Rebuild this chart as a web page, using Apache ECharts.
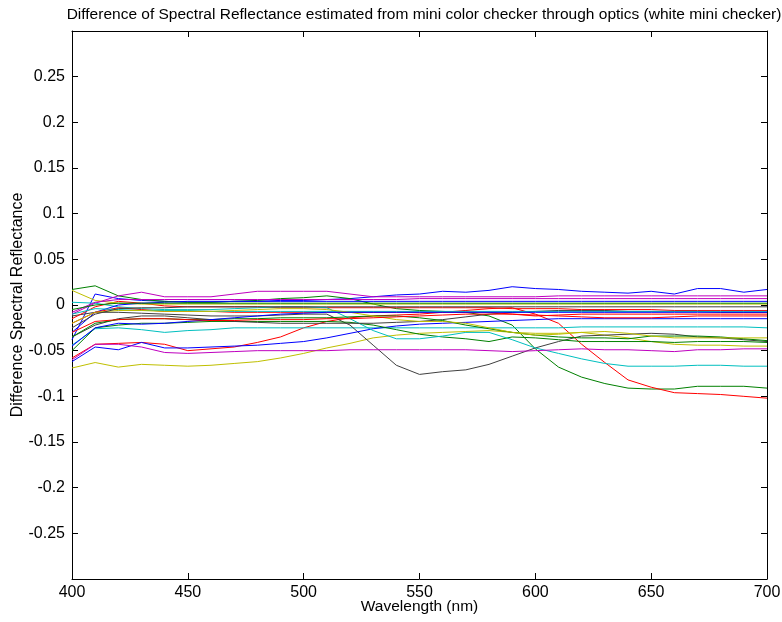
<!DOCTYPE html>
<html><head><meta charset="utf-8">
<script src="https://cdn.jsdelivr.net/npm/echarts@6/dist/echarts.min.js"></script>
<style>html,body{margin:0;padding:0;background:#fff}#c{width:782px;height:622px}</style>
</head><body><div id="c"></div>
<script>
const wavelengths = [400,410,420,430,440,450,460,470,480,490,500,510,520,530,540,550,560,570,580,590,600,610,620,630,640,650,660,670,680,690,700];
const xTicks = [400,450,500,550,600,650,700];
const yTicks = [-0.25,-0.2,-0.15,-0.1,-0.05,0,0.05,0.1,0.15,0.2,0.25];

const s01 = [-0.038,0.012,0.007,0.005,0.004,0.003,0.003,0.004,0.004,0.005,0.005,0.006,0.007,0.009,0.011,0.012,0.015,0.014,0.016,0.02,0.018,0.017,0.015,0.014,0.013,0.015,0.012,0.018,0.018,0.014,0.017];
const s02 = [0.017,0.021,0.01,0.006,0.004,0.003,0.003,0.004,0.005,0.007,0.008,0.01,0.007,0.001,-0.004,-0.006,-0.007,-0.008,-0.012,-0.022,-0.048,-0.068,-0.079,-0.086,-0.091,-0.092,-0.092,-0.089,-0.089,-0.089,-0.091];
const s03 = [-0.058,-0.043,-0.042,-0.041,-0.043,-0.05,-0.048,-0.046,-0.041,-0.035,-0.025,-0.018,-0.014,-0.012,-0.011,-0.01,-0.008,-0.006,-0.004,-0.003,-0.01,-0.02,-0.043,-0.063,-0.082,-0.09,-0.096,-0.097,-0.098,-0.1,-0.102];
const s04 = [-0.044,-0.026,-0.025,-0.027,-0.03,-0.028,-0.027,-0.025,-0.025,-0.025,-0.025,-0.025,-0.025,-0.025,-0.025,-0.025,-0.025,-0.025,-0.025,-0.025,-0.025,-0.025,-0.024,-0.024,-0.024,-0.024,-0.024,-0.024,-0.024,-0.024,-0.025];
const s05 = [-0.01,0.002,0.01,0.014,0.009,0.009,0.009,0.012,0.015,0.015,0.015,0.015,0.012,0.009,0.009,0.009,0.009,0.009,0.009,0.009,0.009,0.01,0.01,0.01,0.01,0.01,0.01,0.01,0.01,0.01,0.01];
const s06 = [-0.069,-0.063,-0.068,-0.065,-0.066,-0.067,-0.066,-0.064,-0.062,-0.058,-0.053,-0.047,-0.042,-0.036,-0.033,-0.031,-0.03,-0.029,-0.028,-0.03,-0.031,-0.031,-0.03,-0.033,-0.036,-0.04,-0.043,-0.044,-0.044,-0.045,-0.045];
const s07 = [-0.012,-0.008,-0.008,-0.009,-0.01,-0.011,-0.012,-0.012,-0.012,-0.011,-0.01,-0.01,-0.022,-0.044,-0.066,-0.076,-0.073,-0.071,-0.065,-0.056,-0.047,-0.04,-0.034,-0.033,-0.032,-0.031,-0.032,-0.035,-0.036,-0.038,-0.04];
const s08 = [-0.062,-0.046,-0.049,-0.041,-0.047,-0.047,-0.046,-0.045,-0.044,-0.042,-0.04,-0.036,-0.031,-0.026,-0.023,-0.021,-0.02,-0.019,-0.018,-0.017,-0.016,-0.015,-0.015,-0.015,-0.015,-0.015,-0.015,-0.015,-0.015,-0.015,-0.015];
const s09 = [-0.05,-0.025,-0.022,-0.02,-0.02,-0.019,-0.018,-0.018,-0.018,-0.018,-0.018,-0.018,-0.019,-0.022,-0.027,-0.032,-0.035,-0.037,-0.04,-0.035,-0.036,-0.038,-0.04,-0.04,-0.04,-0.04,-0.041,-0.04,-0.04,-0.04,-0.041];
const s10 = [-0.015,-0.002,0.004,0.002,-0.001,-0.002,-0.002,-0.002,-0.002,-0.003,-0.003,-0.003,-0.003,-0.003,-0.003,-0.003,-0.003,-0.003,-0.003,-0.004,-0.004,-0.004,-0.005,-0.005,-0.005,-0.005,-0.006,-0.006,-0.006,-0.006,-0.006];
const s11 = [0.003,0.002,-0.002,-0.004,-0.005,-0.005,-0.005,-0.004,-0.003,-0.002,-0.002,-0.003,-0.015,-0.028,-0.037,-0.037,-0.034,-0.03,-0.03,-0.038,-0.047,-0.053,-0.059,-0.064,-0.067,-0.067,-0.067,-0.066,-0.066,-0.067,-0.067];
const s12 = [-0.06,-0.043,-0.043,-0.046,-0.052,-0.053,-0.052,-0.051,-0.05,-0.05,-0.05,-0.05,-0.049,-0.049,-0.049,-0.049,-0.049,-0.049,-0.05,-0.051,-0.05,-0.049,-0.048,-0.049,-0.049,-0.05,-0.051,-0.049,-0.049,-0.048,-0.048];
const s13 = [0.016,0.005,0.002,0.001,0.001,0.001,0.001,0.001,0.001,0.001,0.001,0.001,0.001,0.001,0.001,0.001,0.001,0.001,0.001,0.001,0.001,0.001,0.001,0.001,0.001,0.001,0.001,0.001,0.001,0.001,0.001];
const s14 = [-0.035,-0.022,-0.015,-0.012,-0.012,-0.014,-0.016,-0.018,-0.019,-0.02,-0.02,-0.02,-0.02,-0.02,-0.019,-0.018,-0.016,-0.013,-0.01,-0.008,-0.007,-0.006,-0.006,-0.006,-0.007,-0.007,-0.007,-0.007,-0.008,-0.008,-0.008];
const s15 = [-0.03,-0.008,0.0,0.002,0.003,0.004,0.004,0.004,0.004,0.004,0.004,0.004,0.004,0.004,0.004,0.004,0.004,0.004,0.004,0.004,0.004,0.004,0.004,0.004,0.004,0.004,0.004,0.004,0.004,0.004,0.004];
const s16 = [-0.035,-0.02,-0.016,-0.015,-0.015,-0.016,-0.016,-0.015,-0.015,-0.014,-0.014,-0.014,-0.013,-0.012,-0.012,-0.014,-0.017,-0.022,-0.026,-0.03,-0.033,-0.035,-0.036,-0.036,-0.037,-0.034,-0.034,-0.034,-0.035,-0.037,-0.039];
const s17 = [-0.02,-0.008,-0.003,-0.005,-0.007,-0.007,-0.007,-0.008,-0.008,-0.008,-0.008,-0.008,-0.008,-0.008,-0.008,-0.008,-0.008,-0.008,-0.008,-0.01,-0.012,-0.011,-0.01,-0.01,-0.01,-0.01,-0.01,-0.01,-0.01,-0.01,-0.01];
const s18 = [-0.01,-0.004,-0.005,-0.006,-0.006,-0.006,-0.007,-0.007,-0.007,-0.007,-0.007,-0.007,-0.007,-0.007,-0.007,-0.007,-0.007,-0.007,-0.007,-0.007,-0.007,-0.007,-0.007,-0.007,-0.007,-0.007,-0.007,-0.007,-0.007,-0.007,-0.007];
const s19 = [-0.008,0.003,0.006,0.006,0.006,0.006,0.006,0.006,0.006,0.006,0.006,0.006,0.006,0.006,0.006,0.007,0.007,0.007,0.007,0.007,0.007,0.007,0.007,0.007,0.007,0.007,0.007,0.007,0.007,0.007,0.007];
const s20 = [-0.02,-0.008,-0.006,-0.006,-0.007,-0.007,-0.007,-0.006,-0.005,-0.004,-0.004,-0.005,-0.008,-0.012,-0.016,-0.018,-0.018,-0.02,-0.025,-0.03,-0.033,-0.032,-0.03,-0.029,-0.031,-0.034,-0.036,-0.036,-0.036,-0.036,-0.036];
const s21 = [-0.025,-0.01,-0.004,-0.003,-0.003,-0.002,-0.002,-0.002,-0.002,-0.002,-0.002,-0.002,-0.002,-0.002,-0.002,-0.002,-0.002,-0.002,-0.002,-0.002,-0.002,-0.002,-0.002,-0.002,-0.002,-0.002,-0.002,-0.002,-0.002,-0.002,-0.002];
const s22 = [-0.045,-0.025,-0.02,-0.021,-0.02,-0.018,-0.016,-0.014,-0.012,-0.01,-0.009,-0.008,-0.008,-0.008,-0.008,-0.008,-0.008,-0.008,-0.008,-0.008,-0.008,-0.008,-0.008,-0.008,-0.008,-0.008,-0.008,-0.008,-0.008,-0.008,-0.008];
const s23 = [-0.005,0.0,0.002,0.002,0.002,0.002,0.002,0.002,0.002,0.002,0.002,0.002,0.002,0.002,0.002,0.002,0.002,0.002,0.002,0.002,0.002,0.002,0.002,0.002,0.002,0.002,0.002,0.002,0.002,0.002,0.002];
const s24 = [-0.03,-0.018,-0.016,-0.015,-0.015,-0.016,-0.017,-0.017,-0.016,-0.016,-0.016,-0.015,-0.015,-0.014,-0.013,-0.012,-0.011,-0.01,-0.01,-0.01,-0.011,-0.012,-0.013,-0.014,-0.014,-0.014,-0.013,-0.012,-0.012,-0.012,-0.012];

const allSeries = [s01,s02,s03,s04,s05,s06,s07,s08,s09,s10,s11,s12,s13,s14,s15,s16,s17,s18,s19,s20,s21,s22,s23,s24];
const colorOrder = ['#0000ff','#008000','#ff0000','#00bfbf','#bf00bf','#bfbf00','#404040'];

const FONT = 'Liberation Sans, Arial, sans-serif';
const chart = echarts.init(document.getElementById('c'), null, {renderer:'canvas'});
const fmt = v => String(parseFloat(v.toFixed(2)));
const axisCommon = {
  axisLine:{show:true,onZero:false,lineStyle:{color:'#000',width:1}},
  axisTick:{show:true,inside:true,length:6,lineStyle:{color:'#000'}},
  splitLine:{show:false}
};
chart.setOption({
  animation:false,
  backgroundColor:'#fff',
  title:{text:'Difference of Spectral Reflectance estimated from mini color checker through optics (white mini checker)',
    left:419, top:2, textAlign:'center',
    textStyle:{fontFamily:FONT,fontSize:15.5,fontWeight:'normal',color:'#000'}},
  grid:{left:72,right:15,top:31,bottom:43,containLabel:false,outerBoundsMode:'none'},
  xAxis:[
    Object.assign({type:'value',position:'bottom',min:400,max:700,interval:50,
      name:'Wavelength (nm)',nameLocation:'middle',nameGap:20,nameMoveOverlap:false,
      nameTextStyle:{fontFamily:FONT,fontSize:15.5,color:'#000'},
      axisLabel:{fontFamily:FONT,fontSize:16,color:'#000',margin:6,
        formatter:v=> xTicks.indexOf(v)>=0 ? String(v) : ''}},axisCommon),
    Object.assign({type:'value',position:'top',min:400,max:700,interval:50,axisLabel:{show:false}},axisCommon)
  ],
  yAxis:[
    Object.assign({type:'value',position:'left',min:-0.3,max:0.3,interval:0.05,
      name:'Difference Spectral Reflectance',nameLocation:'middle',nameGap:46,nameRotate:90,nameMoveOverlap:false,
      nameTextStyle:{fontFamily:FONT,fontSize:16,color:'#000'},
      axisLabel:{fontFamily:FONT,fontSize:16,color:'#000',margin:7,
        showMinLabel:false,showMaxLabel:false,
        formatter:v=>{const s=fmt(v);return yTicks.map(fmt).indexOf(s)>=0?s:'';}}},axisCommon),
    Object.assign({type:'value',position:'right',min:-0.3,max:0.3,interval:0.05,axisLabel:{show:false}},axisCommon)
  ],
  series: allSeries.map((arr,i)=>({
    type:'line', xAxisIndex:0, yAxisIndex:0, symbol:'none', silent:true,
    data: wavelengths.map((w,j)=>[w,arr[j]]),
    lineStyle:{width:1,color:colorOrder[i%7]}, itemStyle:{color:colorOrder[i%7]}
  }))
});
</script></body></html>
